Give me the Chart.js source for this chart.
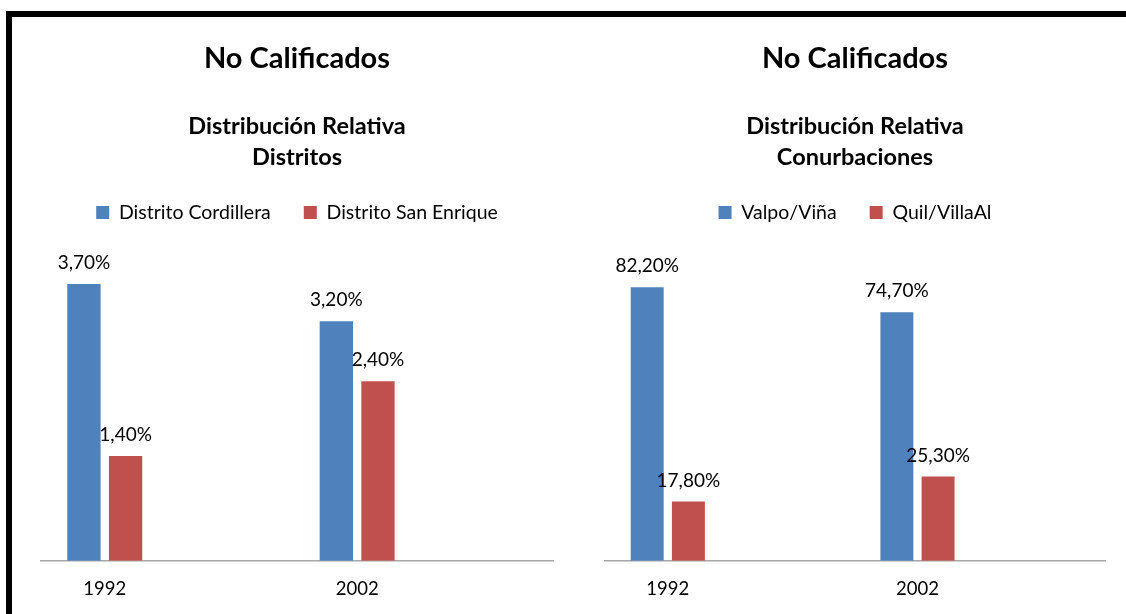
<!DOCTYPE html>
<html>
<head>
<meta charset="utf-8">
<script src="https://cdn.jsdelivr.net/npm/chart.js@4.4.1/dist/chart.umd.min.js"></script>
<style>
  html, body { margin: 0; padding: 0; background: #fff; }
  body { width: 1126px; height: 614px; position: relative; overflow: hidden; }
  canvas { position: absolute; top: 0; }
  #left { left: 0; }
  #right { left: 587px; }
  #frame {
    position: absolute; left: 6px; top: 11px; right: -10px; bottom: -10px;
    border-top: 6px solid #000; border-left: 6px solid #000;
    pointer-events: none;
  }
</style>
</head>
<body>
<canvas id="left" width="587" height="614"></canvas>
<canvas id="right" width="536" height="614"></canvas>
<div id="frame"></div>
<script>
// Datos
const years = ["1992", "2002"];
const distritoCordillera = [3.7, 3.2];
const distritoSanEnrique = [1.4, 2.4];
const valpoVina = [82.2, 74.7];
const quilVillaAl = [17.8, 25.3];

const BLUE = "#4F81BD";
const RED = "#C0504D";
const FONT = "Lato";

// Etiquetas de valor sobre cada barra ("3,70%")
const valueLabels = {
    id: "valueLabels",
    afterDatasetsDraw(chart) {
        const ctx = chart.ctx;
        ctx.save();
        ctx.font = "19px " + FONT;
        ctx.fillStyle = "#000";
        ctx.textAlign = "center";
        ctx.textBaseline = "alphabetic";
        chart.data.datasets.forEach((ds, i) => {
            chart.getDatasetMeta(i).data.forEach((bar, j) => {
                const txt = ds.data[j].y.toFixed(2).replace(".", ",") + "%";
                ctx.fillText(txt, bar.x, bar.y - 15);
            });
        });
        ctx.restore();
    }
};

function toPoints(values) {
    return values.map((v, i) => ({ x: i, y: v }));
}

function makeChart(id, cfg) {
    return new Chart(document.getElementById(id), {
        type: "bar",
        data: {
            datasets: cfg.series.map(s => ({
                label: s.label,
                data: toPoints(s.values),
                backgroundColor: s.color,
                borderWidth: 0,
                categoryPercentage: 0.33,
                barPercentage: 0.8
            }))
        },
        options: {
            responsive: false,
            animation: false,
            layout: { padding: cfg.padding },
            plugins: {
                tooltip: { enabled: false },
                title: {
                    display: true,
                    text: "No Calificados",
                    color: "#000",
                    font: { family: FONT, size: 29, weight: "bold", lineHeight: 1.2 },
                    padding: { top: 41, bottom: 35 }
                },
                subtitle: {
                    display: true,
                    text: cfg.subtitle,
                    color: "#000",
                    font: { family: FONT, size: 23.5, weight: "bold", lineHeight: 31 / 23.5 },
                    padding: { top: 0, bottom: -3 }
                },
                legend: {
                    display: true,
                    position: "top",
                    labels: {
                        color: "#000",
                        font: { family: FONT, size: 19.5 },
                        boxWidth: 13,
                        boxHeight: 13,
                        padding: 33
                    }
                }
            },
            scales: {
                x: {
                    type: "linear",
                    offset: false,
                    min: cfg.xMin,
                    max: cfg.xMax,
                    afterBuildTicks: axis => {
                        axis.ticks = years.map((_, i) => ({ value: i }));
                    },
                    grid: { display: false, drawTicks: false, offset: false },
                    border: { display: true, color: "#A6A6A6", width: 1.5 },
                    ticks: {
                        color: "#000",
                        font: { family: FONT, size: 18.5 },
                        padding: 17,
                        autoSkip: false,
                        maxRotation: 0,
                        callback: value => years[value]
                    }
                },
                y: {
                    display: false,
                    min: 0,
                    max: cfg.yMax
                }
            }
        },
        plugins: [valueLabels]
    });
}

makeChart("left", {
    subtitle: ["Distribución Relativa", "Distritos"],
    series: [
        { label: "Distrito Cordillera", values: distritoCordillera, color: BLUE },
        { label: "Distrito San Enrique", values: distritoSanEnrique, color: RED }
    ],
    padding: { left: 41, right: 34, top: 0, bottom: -3 },
    xMin: -0.2527,
    xMax: 1.776,
    yMax: 4.39
});

makeChart("right", {
    subtitle: ["Distribución Relativa", "Conurbaciones"],
    series: [
        { label: "Valpo/Viña", values: valpoVina, color: BLUE },
        { label: "Quil/VillaAl", values: quilVillaAl, color: RED }
    ],
    padding: { left: 18, right: 18, top: 0, bottom: -3 },
    xMin: -0.2515,
    xMax: 1.751,
    yMax: 98.7
});
</script>
</body>
</html>
